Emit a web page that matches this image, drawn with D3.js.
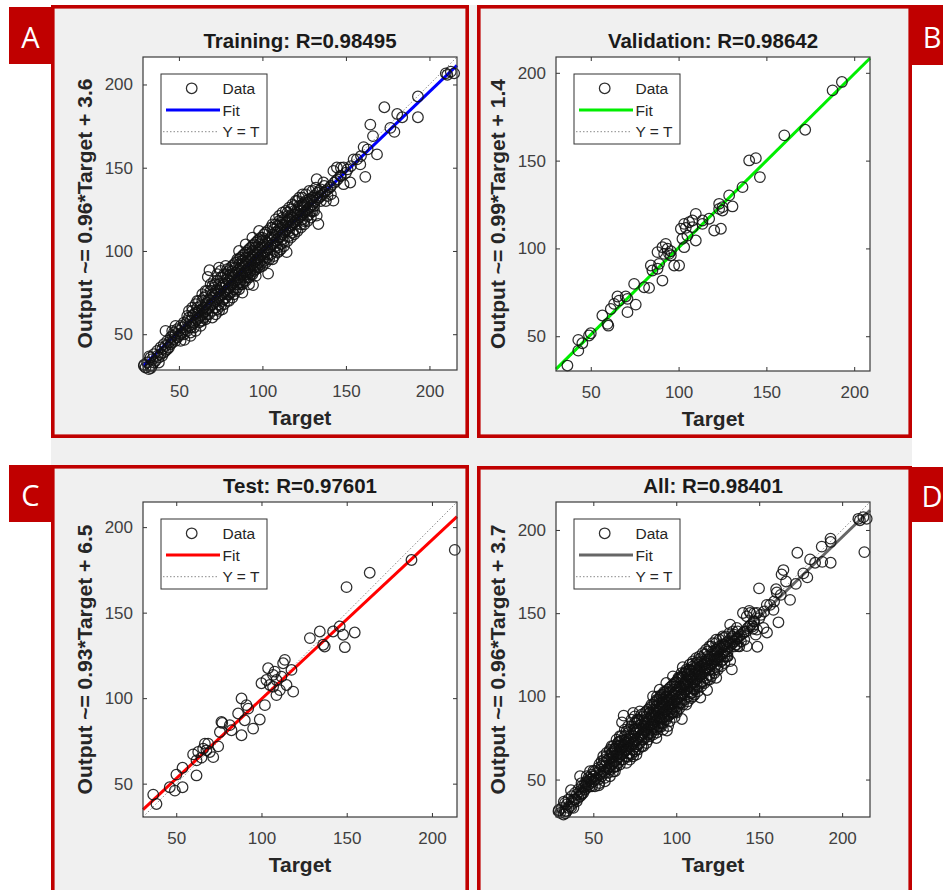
<!DOCTYPE html>
<html><head><meta charset="utf-8">
<script src="https://cdn.jsdelivr.net/npm/d3@7"></script>
<style>body{margin:0;background:#fff}svg{display:block}</style>
</head><body>
<svg id="chart" width="943" height="890"></svg>
<script>
// ---------- DATA (Target, Output) ----------
const trainingPoints = [
[29,31],[30,30],[31,33],[32,29],[33,36],[33,31],[34,35],[35,33],[35,38],[36,34],[37,37],[37,40],[38,36],[39,38],[39,42],[40,37],[40,41],[41,39],[41,44],[42,40],[42,43],[43,41],[43,46],[44,42],[44,45],[45,44],[45,48],[34,31],[38,33],[42,52],[46,52],[29.2,31.7],[33.2,29.7],[32.2,36.7],
[46,45],[46,49],[47,47],[47,51],[48,46],[48,50],[49,48],[49,53],[50,49],[50,52],[51,50],[51,55],[52,51],[52,54],[53,50],[53.3,46.6],[53,57],[54,53],[54,56],[55,52],[55,58],[56,55],[56,60],[57,54],[57,58],[58,56],[58,61],[59,57],[59,62],[60,58],[60,63],[55,61],[51,46],[57,51],[48,55],[59,54],
[61,59],[61,63],[61,66],[62,60],[62,64],[63,61],[63,67],[63,58],[64,62],[64,65],[64,70],[65,63],[65,66],[65,60],[66,64],[66,68],[66,73],[67,65],[67,69],[67,62],[68,66],[68,71],[68.3,88.4],[67.3,84.4],[69,67],[69,72],[69,76],[70,68],[70,74],[70,64],[71,69],[71,73],[71,78],[72,70],[72,75],[72,66],[73,71],[73,77],[73,82],[74,72],[74,76],[74,68],[75,73],[75,78],[75,84],[76,74],[76,79],[76,70],[77,75],[77,80],[77,86],[78,76],[78,81],[78,72],[79,77],[79,83],[79,89],[80,78],[80,82],[80,74],[80,88],[78,91],[74,90],[76,65],
[56,64],[58,66],[60,68],[62,70],[57,49],[60,52],[63,55],[65,72],[67,76],[69,80],[70,60],[72,62],[74,64],[71,82],[73,86],[75,88],[77,68],[79,70],[78,86],[76,84],[62,57],[64,58],[66,59],[68,62],[70,79],[72,80],[74,80],[73,65],[75,67],[77,71],[79,74],[80,70],[64,74],[66,76],[58,64],[61,70],
[81,79],[81,84],[81,75],[82,80],[82,86],[82,91],[83,81],[83,85],[83,77],[84,82],[84,87],[84,93],[85,83],[85,88],[85,78],[86,84],[86,89],[86,95],[87,85],[87,90],[87,80],[88,86],[88,92],[88,97],[89,87],[89,91],[89,82],[90,88],[90,93],[90,99],[91,89],[91,94],[91,84],[92,90],[92,96],[92,101],[93,91],[93,95],[93,86],[94,92],[94,97],[94.4,79.5],[95,93],[95,98],[95,88],[96,94],[96,100],[96,105],[97,95],[97,99],[97,90],[98,96],[98,101],[98,107],[99,97],[99,102],[99,92],[100,98],[100,103],[100,108],[96,85],[92,80],[88,75],[86,100],[90,104],[94,108],[98,112],
[81,90],[82,72],[83,92],[84,76],[85,95],[86,77],[87,96],[88,80],[89,98],[90,82],[91,100],[92,84],[93,102],[94,86],[95,104],[96,89],[97,106],[98,90],[99,108],[100,91],[101,110],[102,93],[103,112],[104,95],[105,114],[82,88],[84,90],[86,92],[88,94],[90,96],[92,98],[94,100],[96,102],[98,104],[100,106],[83,74],[85,80],[87,82],[89,84],[91,86],[93,88],[95,90],[97,92],[99,94],[101,96],[103,98],[80,85],[86,81],[92,87],[98,93],[94,103],[90,87],
[101,99],[101,104],[101,94],[102,100],[102,106],[102,111],[103,101],[103,105],[103,96],[104,102],[104,107],[103.4,86.4],[105,103],[105,108],[105,98],[106,104],[106,110],[106,114],[107,105],[107,109],[107,100],[108,106],[108,111],[108,116],[109,107],[109,112],[109,102],[110,108],[110,113],[110,118],[111,109],[111,114],[111,104],[112,110],[112,116],[112,120],[113,111],[113,115],[113,106],[114,112],[114,117],[114.5,99.3],[115,113],[115,118],[115,123],[116,114],[116,119],[116,109],[117,115],[117,121],[117,125],[118,116],[118,120],[118,111],[119,117],[119,122],[119,127],[120,118],[120,123],[120,113],[121,119],[121,125],[122,120],[122,127],[123,121],[123,124],[123,116],[124,122],[124,128],[125,123],[125,127],[125,118],[126,124],[126,130],[127,125],[127,121],[128,126],[128,131],[129,127],[129,124],[130,128],[130,132],[130,124],[124,132],[121,130],[110,100],[106,95],
[106,116],[107,97],[108,119],[109,99],[110,121],[111,101],[112,123],[113,103],[114,124],[115,106],[116,126],[117,108],[118,128],[119,110],[120,130],[121,112],[122,132],[123,114],[124,134],[125,116],[126,134],[127,118],[128,136],[129,120],[130,136],[131,124],[132,138],[107,113],[109,115],[111,117],[113,119],[115,121],[117,119],[119,124],[121,122],[123,127],[125,129],[127,129],[129,131],[131,127],[133,135],[135,130],[137,139],[139,133],[108,103],[112,107],[116,112],[120,116],[124,119],[128,122],
[131,129],[131,133],[132.5,132.2],[132.5,143.1],[132.5,121.2],[133,131],[133.5,116.2],[134,132],[134,136],[135,133],[135,137],[136.5,141.1],[136,134],[137,135],[138,136],[138,130],[139,137],[140.5,138.1],[141,139],[141,134],[142.5,130.2],[142.5,148.1],[143,141],[144.6,150.1],[144,142],[145,143],[146.6,145.1],[147,145],[147,150],[148.6,150.1],[148.6,140.1],[150,147],[151,149],[152.6,141.1],[153,151],[154.6,155],[156.6,155],[158.6,152],[159,157],[160.6,162.4],
[161.6,144.5],[163,161],[164.6,175.9],[166.2,169],[168.6,158],[173,186.3],[176.6,173.9],[179,171.5],[180.7,182.3],[183.7,180.3],[193.1,192.8],[193.1,180.3],[209.8,206.7],[210.7,205.8],[212.8,207.7],[214.8,206.7]
];
const validationPoints = [
[36.7,33.3],[42.9,41.8],[42.9,47.9],[45.2,46],[49,50.4],[50,51.7],[56.6,61.8],[59.5,57],[60,56],[61.4,65.5],[63.3,68.4],[65.2,72.6],[66.1,70.3],[69.9,72.6],[70.9,71.3],[70.9,63.7],[74.7,79.8],[75.6,68],[80.4,77.9],[83.2,77.5],[84.2,90.3],[85.1,87.4],[88,97.9],[88,88.4],[88.9,91.2],[90.8,100.7],[90.8,81.7],[91.8,96.9],[92.7,102.6],[93.7,99.8],[94.6,96.9],[95.6,98.4],[95.6,96],[97.5,90.3],[100.3,90.3],[101.3,111.2],[102.2,105.5],[103.2,100.7],[103.2,114],[104.1,111.7],[105,107.3],[106,114.9],[107.9,112.1],[107.9,115.9],[109.8,119.7],[109.8,104.5],[113.6,114],[113.6,115.9],[117.4,116.9],[120.3,110.2],[123.1,125.4],[123.1,122.5],[124.1,111.2],[125,121.6],[125,123.5],[128.8,130.2],[130.7,123.9],[136.4,134.9],[140.2,150.1],[144,151.4],[146.3,140.6],[160.2,164.4],[172.1,167.6],[187.7,190],[193,194.8]
];
const testPoints = [
[36.5,43.6],[38.4,38.1],[46.2,47.9],[49.2,45.9],[53.7,47.9],[50.1,55.3],[53.7,59.3],[61.9,54.8],[61.9,63.6],[59.9,67.1],[62.9,68.5],[64.8,65.2],[65.8,70.4],[66.8,73.4],[67.7,69.5],[68.7,73.4],[69.7,68.5],[71.7,65.5],[74.6,71.8],[75.6,80.2],[76.5,86.1],[77,85.5],[81.4,84.2],[82.4,81.2],[86.3,91],[88.3,99.8],[88.3,78.3],[90.2,87.1],[91.2,95.9],[92.2,93.9],[95.1,82.2],[99,87.5],[100,108.7],[102,95.9],[102.9,110.6],[103.9,117.5],[104.9,107.7],[106.8,113.6],[106.8,106.7],[107.8,115.5],[108.8,110.6],[108.8,101.8],[110.8,104.7],[111.7,112.6],[112.7,120.4],[113.7,122.4],[114.7,107.7],[117.6,116.5],[118.6,103.8],[128.4,135.1],[134.2,139],[136.2,131.2],[137.1,130.2],[142,139],[145.9,142],[147.9,137.1],[148.9,129.8],[154.7,138.4],[149.9,164.9],[163.5,173.3],[188,180.8],[213.4,186.7]
];
const allPoints = trainingPoints.concat(validationPoints, testPoints);

const panelLetters = ["A", "B", "C", "D"];
const panelTitles = ["Training: R=0.98495", "Validation: R=0.98642", "Test: R=0.97601", "All: R=0.98401"];
const fitSlopes = [0.96, 0.99, 0.93, 0.96];
const fitIntercepts = [3.6, 1.4, 6.5, 3.7];
const slopeLabels = ["0.96", "0.99", "0.93", "0.96"];
const interceptLabels = ["3.6", "1.4", "6.5", "3.7"];
const axisRanges = [[28.5, 216.5], [30.2, 209], [30.5, 214.7], [27.5, 216.8]];
const tickValues = [50, 100, 150, 200];
const legendLabels = ["Data", "Fit", "Y = T"];
const panelData = [trainingPoints, validationPoints, testPoints, allPoints];

// ---------- LAYOUT / STYLE ----------
const fitColors = ["#0000ff", "#00ee00", "#ff0000", "#666666"];
const layout = [
  {plot: [143, 57, 314, 313], frame: [51, 5, 469, 438], tag: [9, 7, 42, 57], tx: 30.5, ty: 36},
  {plot: [556, 57, 314, 314], frame: [477, 5, 912, 438], tag: [912, 5, 40, 60], tx: 932, ty: 36},
  {plot: [143, 502, 314, 315], frame: [51, 465, 469, 900], tag: [9, 465, 42, 57], tx: 30.5, ty: 494},
  {plot: [556, 502, 314, 315], frame: [477, 466, 912, 900], tag: [912, 467, 40, 55], tx: 932, ty: 495}
];
const FONT = "'Liberation Sans', Arial, Helvetica, sans-serif";
const RED = "#c00000";
const BW = 3.6;
const R = 5.3;

const svg = d3.select("#chart");
svg.append("rect").attr("x", 0).attr("y", 0).attr("width", 943).attr("height", 890).attr("fill", "#ffffff");
svg.append("rect").attr("x", 51).attr("y", 5).attr("width", 861).attr("height", 885).attr("fill", "#f0f0f0");

panelData.forEach((pts, i) => {
  const L = layout[i];
  const [px, py, pw, ph] = L.plot;
  const g = svg.append("g");

  const [fx0, fy0, fx1, fy1] = L.frame;
  g.append("rect")
    .attr("x", fx0 + BW / 2).attr("y", fy0 + BW / 2)
    .attr("width", fx1 - fx0 - BW).attr("height", fy1 - fy0 - BW)
    .attr("fill", "#f0f0f0").attr("stroke", RED).attr("stroke-width", BW);
  g.append("rect").attr("x", L.tag[0]).attr("y", L.tag[1]).attr("width", L.tag[2]).attr("height", L.tag[3]).attr("fill", RED);
  g.append("text").attr("x", L.tx).attr("y", L.ty).attr("text-anchor", "middle").attr("dominant-baseline", "central")
    .attr("fill", "#ffffff").attr("font-family", "'Open Sans', 'Liberation Sans', sans-serif").attr("font-size", 29)
    .text(panelLetters[i]);

  const x = d3.scaleLinear().domain(axisRanges[i]).range([px, px + pw]);
  const y = d3.scaleLinear().domain(axisRanges[i]).range([py + ph, py]);

  g.append("rect").attr("x", px).attr("y", py).attr("width", pw).attr("height", ph).attr("fill", "#ffffff");

  const tickStyle = sel => {
    sel.select(".domain").remove();
    sel.selectAll(".tick line").attr("stroke", "#333").attr("stroke-width", 1);
    sel.selectAll(".tick text").attr("fill", "#404040").attr("font-family", FONT).attr("font-size", 17);
  };
  g.append("g").attr("transform", `translate(0,${py + ph})`)
    .call(d3.axisBottom(x).tickValues(tickValues).tickSizeInner(-4).tickSizeOuter(0).tickPadding(15))
    .call(tickStyle);
  g.append("g").attr("transform", `translate(0,${py})`)
    .call(d3.axisTop(x).tickValues(tickValues).tickSizeInner(-4).tickSizeOuter(0).tickFormat(""))
    .call(tickStyle);
  g.append("g").attr("transform", `translate(${px},0)`)
    .call(d3.axisLeft(y).tickValues(tickValues).tickSizeInner(-4).tickSizeOuter(0).tickPadding(10))
    .call(tickStyle);
  g.append("g").attr("transform", `translate(${px + pw},0)`)
    .call(d3.axisRight(y).tickValues(tickValues).tickSizeInner(-4).tickSizeOuter(0).tickFormat(""))
    .call(tickStyle);

  const [d0, d1] = axisRanges[i];
  g.append("line").attr("x1", x(d0)).attr("y1", y(d0)).attr("x2", x(d1)).attr("y2", y(d1))
    .attr("stroke", "#8a8a8a").attr("stroke-width", 1).attr("stroke-dasharray", "1.5,2");
  const fit = t => fitSlopes[i] * t + fitIntercepts[i];
  g.append("line").attr("x1", x(d0)).attr("y1", y(fit(d0))).attr("x2", x(d1)).attr("y2", y(fit(d1)))
    .attr("stroke", fitColors[i]).attr("stroke-width", 3);

  g.append("g").selectAll("circle").data(pts).join("circle")
    .attr("cx", d => x(d[0])).attr("cy", d => y(d[1])).attr("r", R)
    .attr("fill", "none").attr("stroke", "#111").attr("stroke-opacity", 0.88).attr("stroke-width", 1.25);

  g.append("rect").attr("x", px).attr("y", py).attr("width", pw).attr("height", ph)
    .attr("fill", "none").attr("stroke", "#3a3a3a").attr("stroke-width", 1.2);

  g.append("text").attr("x", px + pw / 2).attr("y", py - 9).attr("text-anchor", "middle")
    .attr("font-family", FONT).attr("font-weight", "bold").attr("font-size", 20.5).attr("fill", "#1a1a1a")
    .text(panelTitles[i]);
  g.append("text").attr("x", px + pw / 2).attr("y", py + ph + 55).attr("text-anchor", "middle")
    .attr("font-family", FONT).attr("font-weight", "bold").attr("font-size", 21).attr("fill", "#262626")
    .text("Target");
  g.append("text").attr("transform", `translate(${px - 51},${py + ph / 2}) rotate(-90)`).attr("text-anchor", "middle")
    .attr("font-family", FONT).attr("font-weight", "bold").attr("font-size", 21).attr("fill", "#262626")
    .text(`Output ~= ${slopeLabels[i]}*Target + ${interceptLabels[i]}`);

  const lx = px + 18, ly = py + 17;
  const lg = g.append("g");
  lg.append("rect").attr("x", lx).attr("y", ly).attr("width", 106).attr("height", 70)
    .attr("fill", "#ffffff").attr("stroke", "#333").attr("stroke-width", 1);
  const rows = [14.3, 36, 57.7];
  lg.append("circle").attr("cx", lx + 30.7).attr("cy", ly + rows[0]).attr("r", R)
    .attr("fill", "none").attr("stroke", "#111").attr("stroke-opacity", 0.88).attr("stroke-width", 1.25);
  lg.append("line").attr("x1", lx + 5).attr("x2", lx + 59).attr("y1", ly + rows[1]).attr("y2", ly + rows[1])
    .attr("stroke", fitColors[i]).attr("stroke-width", 3);
  lg.append("line").attr("x1", lx + 2).attr("x2", lx + 56).attr("y1", ly + rows[2]).attr("y2", ly + rows[2])
    .attr("stroke", "#8a8a8a").attr("stroke-width", 1).attr("stroke-dasharray", "1.5,2");
  legendLabels.forEach((lab, k) => {
    lg.append("text").attr("x", lx + 61.5).attr("y", ly + rows[k]).attr("dominant-baseline", "central")
      .attr("font-family", FONT).attr("font-size", 15.5).attr("fill", "#262626").text(lab);
  });
});
</script>
</body></html>
